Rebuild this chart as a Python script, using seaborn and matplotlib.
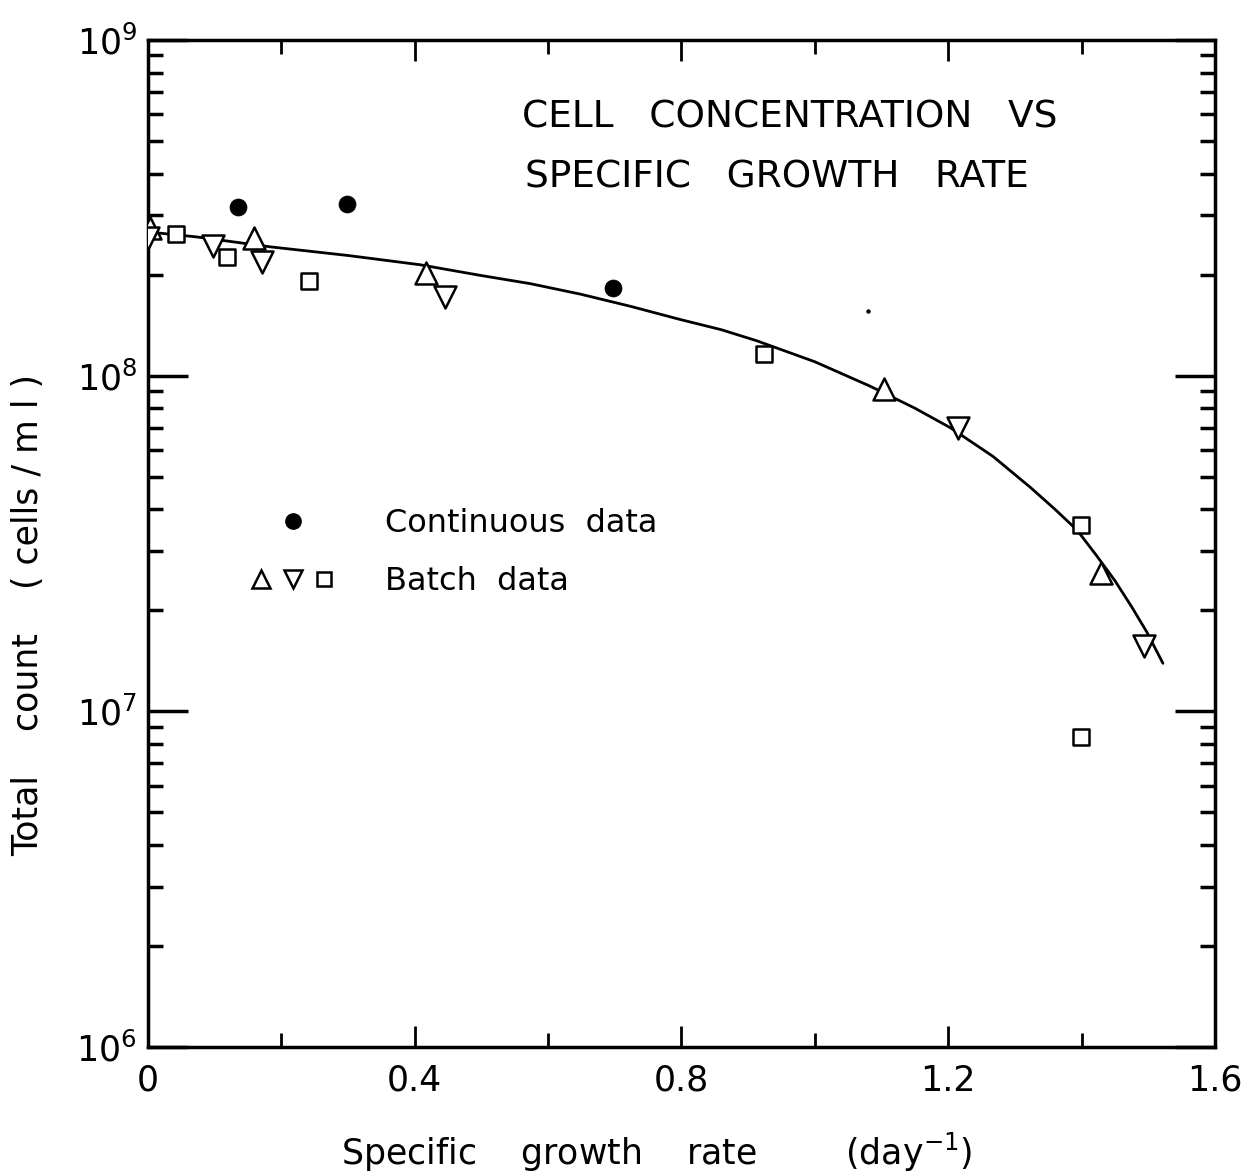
import matplotlib
matplotlib.use("Agg")
import matplotlib.pyplot as plt
import seaborn as sns
from matplotlib.lines import Line2D
from matplotlib.legend_handler import HandlerTuple
from matplotlib.ticker import LogLocator, MultipleLocator, FixedLocator, NullFormatter

# ---------------- data ----------------
cont_x = [0.135, 0.298, 0.697]
cont_y = [3.18e8, 3.25e8, 1.82e8]

up_x = [0.003, 0.159, 0.417, 1.104, 1.429]
up_y = [2.75e8, 2.57e8, 2.02e8, 9.1e7, 2.58e7]

down_x = [0.0, 0.097, 0.171, 0.445, 1.215, 1.494]
down_y = [2.57e8, 2.43e8, 2.18e8, 1.71e8, 6.98e7, 1.56e7]

sq_x = [0.042, 0.118, 0.241, 0.924, 1.399, 1.399]
sq_y = [2.64e8, 2.26e8, 1.91e8, 1.16e8, 3.59e7, 8.39e6]

curve_x = [0.0, 0.073, 0.183, 0.30, 0.408, 0.498, 0.573, 0.648, 0.723, 0.798,
           0.86, 0.913, 1.0, 1.083, 1.15, 1.203, 1.267, 1.323, 1.36, 1.393,
           1.423, 1.45, 1.475, 1.498, 1.522]
curve_y = [2.68e8, 2.59e8, 2.42e8, 2.28e8, 2.14e8, 1.99e8, 1.88e8, 1.75e8, 1.61e8, 1.47e8,
           1.37e8, 1.27e8, 1.10e8, 9.3e7, 8.0e7, 7.0e7, 5.75e7, 4.65e7, 4.0e7, 3.47e7,
           2.9e7, 2.45e7, 2.05e7, 1.72e7, 1.39e7]

speck_x = [1.080]
speck_y = [1.56e8]

x_ticks = [0, 0.4, 0.8, 1.2, 1.6]
x_ticklabels = ["0", "0.4", "0.8", "1.2", "1.6"]
y_ticks = [1e6, 1e7, 1e8, 1e9]
y_ticklabels = [r"$10^{6}$", r"$10^{7}$", r"$10^{8}$", r"$10^{9}$"]

title_lines = ["CELL   CONCENTRATION   VS", "SPECIFIC   GROWTH   RATE"]
legend_labels = ["Continuous  data", "Batch  data"]
xlabel = r"Specific    growth    rate        (day$^{-1}$)"
ylabel = "Total    count    ( cells / m l )"

# ---------------- style ----------------
sns.set_theme(style="ticks")
plt.rcParams["font.family"] = ["DejaVu Sans"]
plt.rcParams["mathtext.default"] = "regular"
for k in ["text.color", "axes.labelcolor", "xtick.color", "ytick.color", "axes.edgecolor"]:
    plt.rcParams[k] = "black"

fig = plt.figure(figsize=(12.47, 11.76), dpi=100)
ax = fig.add_axes([0.1187, 0.1097, 0.8556, 0.8563])

lw_mark = 1.8
sns.lineplot(x=curve_x, y=curve_y, sort=False, estimator=None, color="black",
             lw=2.0, ax=ax, zorder=2)
sns.scatterplot(x=cont_x, y=cont_y, marker="o", s=150, color="black",
                edgecolor="black", linewidth=0.5, ax=ax, zorder=3)
sns.scatterplot(x=up_x, y=up_y, marker="^", s=250, facecolor="white",
                edgecolor="black", linewidth=lw_mark, ax=ax, zorder=3)
sns.scatterplot(x=down_x, y=down_y, marker="v", s=250, facecolor="white",
                edgecolor="black", linewidth=lw_mark, ax=ax, zorder=3)
sns.scatterplot(x=sq_x, y=sq_y, marker="s", s=125, facecolor="white",
                edgecolor="black", linewidth=lw_mark, ax=ax, zorder=3)
sns.scatterplot(x=speck_x, y=speck_y, marker="o", s=10, color="black",
                linewidth=0, ax=ax, zorder=3)

ax.set_yscale("log")
ax.set_xlim(0, 1.6)
ax.set_ylim(1e6, 1e9)

ax.xaxis.set_major_locator(FixedLocator(x_ticks))
ax.set_xticklabels(x_ticklabels)
ax.xaxis.set_minor_locator(MultipleLocator(0.2))
ax.yaxis.set_major_locator(FixedLocator(y_ticks))
ax.set_yticklabels(y_ticklabels)
ax.yaxis.set_minor_locator(LogLocator(base=10, subs=range(2, 10)))
ax.yaxis.set_minor_formatter(NullFormatter())

for s in ax.spines.values():
    s.set_linewidth(2.5)
    s.set_color("black")

ax.tick_params(axis="both", which="both", direction="in", top=True, right=True,
               color="black", labelcolor="black")
ax.tick_params(axis="x", which="major", length=15, width=2.0, labelsize=25, pad=12)
ax.tick_params(axis="x", which="minor", length=10, width=2.0)
ax.tick_params(axis="y", which="major", length=29, width=2.5, labelsize=25, pad=8)
ax.tick_params(axis="y", which="minor", length=11, width=2.5)

ax.set_xlabel(xlabel, fontsize=25)
ax.xaxis.label.set_va("center")
ax.xaxis.set_label_coords(0.477, -0.105)
ax.set_ylabel(ylabel, fontsize=25)
ax.yaxis.label.set_va("center")
ax.yaxis.set_label_coords(-0.1125, 0.429)

ax.text(0.3505, 0.9235, title_lines[0], transform=ax.transAxes, fontsize=27,
        ha="left", va="center")
ax.text(0.353, 0.863, title_lines[1], transform=ax.transAxes, fontsize=27,
        ha="left", va="center")

h_cont = Line2D([], [], marker="o", ls="none", color="black", markersize=11)
h_up = Line2D([], [], marker="^", ls="none", markerfacecolor="white",
              markeredgecolor="black", markeredgewidth=1.8, markersize=13)
h_dn = Line2D([], [], marker="v", ls="none", markerfacecolor="white",
              markeredgecolor="black", markeredgewidth=1.8, markersize=13)
h_sq = Line2D([], [], marker="s", ls="none", markerfacecolor="white",
              markeredgecolor="black", markeredgewidth=1.8, markersize=10)
ax.legend([h_cont, (h_up, h_dn, h_sq)], legend_labels,
          handler_map={tuple: HandlerTuple(ndivide=None, pad=0.3)},
          loc="upper left", bbox_to_anchor=(0.095, 0.535), frameon=False,
          fontsize=23, handlelength=2.7, handletextpad=1.55, labelspacing=0.85,
          borderpad=0, borderaxespad=0)

fig.savefig("out.png", dpi=100)
